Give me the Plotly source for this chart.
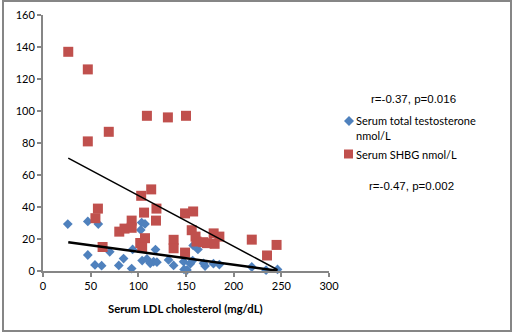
import plotly.graph_objects as go

# ---- data ----
ldl_testo = [26, 47, 58, 47, 54.5, 61.5, 70, 79.5, 84.5, 93, 94, 103.5, 107, 102.5, 104, 109,
             112.5, 116, 118, 119.5, 131.7, 137, 147.5, 148, 151, 154.5, 157.5, 162.5, 157,
             168.4, 170, 178.8, 185, 219, 234, 246]
testosterone = [29.3, 31, 29.3, 10, 3.8, 3.3, 12, 3.5, 7.8, 1.5, 13.5, 30.3, 29.4, 25.7, 6.5, 7.5,
                4.8, 5.8, 13.4, 5.5, 6.9, 3.5, 5.8, 1, 0.6, 4.5, 16, 13.5, 6.5,
                4.8, 3.1, 4.6, 4, 2.5, 0.5, 1]

ldl_shbg = [26.5, 47, 47, 69, 109, 131, 150, 113.5, 57.6, 55, 62.5, 80, 85.5, 93, 93, 103, 106,
            119, 118.5, 102, 107, 104, 137, 137, 149, 157.5, 156, 160, 149, 161, 168, 179, 185,
            172, 180, 219, 235, 245]
shbg = [137, 126, 81, 87, 97, 96, 97, 51, 39, 33, 15, 24.6, 26.5, 31.5, 27, 47, 36.5,
        39, 31.5, 17.5, 20.5, 14.5, 19.5, 14.2, 36, 37.2, 25.5, 21.5, 11.5, 18.4, 18, 23.5, 21.5,
        17.4, 17, 19.6, 9.7, 16.3]

trend_x = [26.5, 246]
testo_trend = [18.0, 0.2]
shbg_trend = [70.6, 0.8]

x_ticks = [0, 50, 100, 150, 200, 250, 300]
y_ticks = [0, 20, 40, 60, 80, 100, 120, 140, 160]

series_names = ["Serum total testosterone", "nmol/L", "Serum SHBG nmol/L"]
stats_text = ["r=-0.37, p=0.016", "r=-0.47, p=0.002"]
x_title = "Serum LDL cholesterol (mg/dL)"

BLUE = "#4F81BD"
RED = "#C0504D"
GRID = "#868686"

# ---- layout geometry (pixels) ----
W, H = 515, 335
L, R, T, B = 43, 186, 15, 64
PW, PH = W - L - R, H - T - B


def px(p):
    return (p - L) / PW


def py(p):
    return (H - B - p) / PH


fig = go.Figure()
fig.add_trace(go.Scatter(x=ldl_testo, y=testosterone, mode="markers",
                         marker=dict(symbol="diamond", size=7.5, color=BLUE, line=dict(width=0)),
                         showlegend=False, cliponaxis=False))
fig.add_trace(go.Scatter(x=ldl_shbg, y=shbg, mode="markers",
                         marker=dict(symbol="square", size=10, color=RED, line=dict(width=0)),
                         showlegend=False, cliponaxis=False))
fig.add_trace(go.Scatter(x=trend_x, y=shbg_trend, mode="lines",
                         line=dict(color="black", width=1.5), showlegend=False))
fig.add_trace(go.Scatter(x=trend_x, y=testo_trend, mode="lines",
                         line=dict(color="black", width=2.5), showlegend=False))

font_tick = dict(family="Lato", size=11, color="black")

fig.update_xaxes(range=[0, 300], tickvals=x_ticks, ticks="outside", ticklen=4, tickwidth=2,
                 tickcolor=GRID, showline=True, linecolor=GRID, linewidth=2, showgrid=False,
                 zeroline=False, tickfont=font_tick)
fig.update_yaxes(range=[0, 160], tickvals=y_ticks, ticks="outside", ticklen=4, tickwidth=2,
                 tickcolor=GRID, showline=True, linecolor=GRID, linewidth=2, showgrid=False,
                 zeroline=False, tickfont=font_tick)

shapes = [
    dict(type="rect", xref="paper", yref="paper", x0=px(3), x1=px(511), y0=py(331), y1=py(1),
         line=dict(color=GRID, width=2), fillcolor="rgba(0,0,0,0)", layer="below"),
    dict(type="path", xref="paper", yref="paper", xsizemode="pixel", ysizemode="pixel",
         xanchor=px(349), yanchor=py(121), path="M-5,0 L0,5 L5,0 L0,-5 Z",
         fillcolor=BLUE, line=dict(width=0)),
    dict(type="rect", xref="paper", yref="paper", xsizemode="pixel", ysizemode="pixel",
         xanchor=px(348.5), yanchor=py(154), x0=-4.5, x1=4.5, y0=-4.5, y1=4.5,
         fillcolor=RED, line=dict(width=0)),
]

font_leg = dict(family="Lato", size=11, color="black")
font_stat = dict(family="Liberation Sans", size=11.5, color="black")
annotations = [
    dict(text="<b>" + x_title + "</b>", x=px(185.5), y=py(308), xanchor="center", yanchor="middle",
         font=dict(family="Lato", size=11.3, color="black")),
    dict(text=stats_text[0], x=px(413), y=py(99), xanchor="center", yanchor="middle", font=font_stat),
    dict(text=stats_text[1], x=px(411), y=py(186), xanchor="center", yanchor="middle", font=font_stat),
    dict(text=series_names[0], x=px(354), y=py(120), xanchor="left", yanchor="middle", font=font_leg),
    dict(text=series_names[1], x=px(354), y=py(135), xanchor="left", yanchor="middle", font=font_leg),
    dict(text=series_names[2], x=px(354), y=py(154), xanchor="left", yanchor="middle", font=font_leg),
]
for a in annotations:
    a.update(xref="paper", yref="paper", showarrow=False)

fig.update_layout(width=W, height=H, margin=dict(l=L, r=R, t=T, b=B, autoexpand=False),
                  paper_bgcolor="white", plot_bgcolor="white", shapes=shapes,
                  annotations=annotations, showlegend=False)

fig.write_html("out.html")
